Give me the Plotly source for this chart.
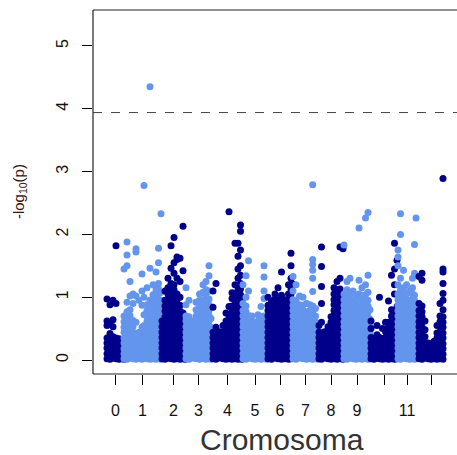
import plotly.graph_objects as go

# ---------------- data ----------------
# cumulative genome position of SNP columns and their -log10(p) values per chromosome
ch00_x = [14, 17, 20, 23, 26, 28.5, 31]
ch00_y = [[0.02, 0.1, 0.19, 0.27, 0.35, 0.55, 0.62, 0.97],
          [0.01, 0.09, 0.17, 0.26, 0.34, 0.42, 0.58, 0.88],
          [0.03, 0.11, 0.2, 0.28, 0.37, 0.53, 0.64, 0.95],
          [0.02, 0.1, 0.18, 0.27, 0.35, 0.9, 1.82],
          [0.01, 0.09, 0.18, 0.26, 0.34],
          [0.02, 0.1, 0.19, 0.28],
          [0.01, 0.08, 0.16]]

ch01_x = [31, 34, 37, 40, 43, 46, 49, 51, 54, 57, 60, 63, 65.5, 68]
ch01_y = [[0.02, 0.1, 0.18, 0.27, 0.35, 0.44, 0.52, 0.61, 0.7, 1.45],
          [0.01, 0.09, 0.17, 0.26, 0.34, 0.43, 0.51, 0.6, 0.68, 0.77, 0.92, 1.5, 1.67, 1.88],
          [0.03, 0.11, 0.2, 0.28, 0.37, 0.45, 0.54, 0.62, 0.71, 0.8, 1.02, 1.25],
          [0.02, 0.1, 0.19, 0.27, 0.36, 0.44, 0.53, 0.63, 0.9, 1.05],
          [0.01, 0.09, 0.18, 0.26, 0.35, 0.6, 1.02, 1.72, 1.77],
          [0.02, 0.1, 0.19, 0.27, 0.36, 0.44, 0.95],
          [0.01, 0.09, 0.17, 0.26, 0.34, 0.43, 0.52, 0.87, 1.1, 1.37],
          [0.03, 0.12, 0.2, 0.29, 0.37, 0.46, 0.55, 0.72, 1.0, 2.78],
          [0.02, 0.1, 0.19, 0.27, 0.36, 0.44, 0.53, 0.62, 0.7, 0.79, 0.88, 1.15],
          [0.01, 0.09, 0.18, 0.26, 0.35, 0.43, 0.52, 0.6, 0.69, 0.78, 0.86, 0.95, 1.46, 4.35],
          [0.02, 0.1, 0.19, 0.27, 0.36, 0.44, 0.53, 0.61, 0.7, 0.79, 0.87, 0.96, 1.04, 1.2],
          [0.01, 0.09, 0.18, 0.26, 0.35, 0.43, 0.52, 0.6, 0.69, 0.77, 0.86, 0.95, 1.03, 1.12, 1.4],
          [0.02, 0.11, 0.19, 0.28, 0.36, 0.45, 0.53, 0.62, 0.71, 0.79, 0.88, 0.96, 1.05, 1.13, 1.22, 1.55, 1.78],
          [0.01, 0.09, 0.18, 0.26, 0.35, 0.44, 0.52, 0.61, 0.7, 0.78, 0.87, 0.95, 1.08, 2.33]]

ch02_x = [69, 72, 75, 78, 81, 84, 87, 90, 92]
ch02_y = [[0.02, 0.1, 0.19, 0.27, 0.36, 0.44, 0.53, 0.62],
          [0.01, 0.09, 0.18, 0.26, 0.35, 0.43, 0.52, 0.6, 0.69, 0.78, 0.86, 0.95, 1.1],
          [0.03, 0.11, 0.2, 0.28, 0.37, 0.45, 0.54, 0.63, 0.71, 0.8, 0.88, 0.97, 1.05, 1.15, 1.3],
          [0.02, 0.1, 0.19, 0.27, 0.36, 0.44, 0.53, 0.61, 0.7, 0.79, 0.87, 0.96, 1.04, 1.13, 1.22, 1.46, 1.82],
          [0.01, 0.09, 0.18, 0.26, 0.35, 0.43, 0.52, 0.6, 0.69, 0.77, 0.86, 0.94, 1.03, 1.12, 1.2, 1.38, 1.55, 1.95],
          [0.02, 0.11, 0.19, 0.28, 0.36, 0.45, 0.53, 0.62, 0.7, 0.79, 0.88, 0.96, 1.05, 1.3, 1.6, 1.64],
          [0.01, 0.1, 0.18, 0.27, 0.35, 0.44, 0.52, 0.61, 0.7, 0.78, 0.87, 1.0, 1.25, 1.62],
          [0.02, 0.1, 0.19, 0.27, 0.36, 0.44, 0.53, 0.61, 0.75, 1.42, 2.13],
          [0.01, 0.09, 0.18, 0.26, 0.35, 0.5]]

ch03_x = [93, 96, 99.5, 103, 106.5, 110, 113, 116, 118]
ch03_y = [[0.02, 0.1, 0.19, 0.27, 0.36, 0.44, 0.53, 0.62, 0.7, 0.88, 1.15],
          [0.01, 0.09, 0.18, 0.26, 0.35, 0.43, 0.52, 0.6, 0.69, 0.95],
          [0.03, 0.11, 0.2, 0.28, 0.37, 0.45, 0.54, 0.62],
          [0.02, 0.1, 0.19, 0.27, 0.36, 0.44, 0.53, 0.61, 0.7, 0.8, 0.92],
          [0.01, 0.09, 0.18, 0.26, 0.35, 0.43, 0.52, 0.6, 0.69, 0.77, 0.86, 0.95, 1.05],
          [0.02, 0.1, 0.19, 0.27, 0.36, 0.44, 0.53, 0.61, 0.7, 0.79, 0.87, 0.96, 1.08, 1.2],
          [0.01, 0.09, 0.18, 0.26, 0.35, 0.43, 0.52, 0.6, 0.69, 0.77, 0.86, 0.95, 1.03, 1.12, 1.25],
          [0.02, 0.11, 0.19, 0.28, 0.36, 0.45, 0.53, 0.62, 0.71, 0.79, 0.88, 0.97, 1.1, 1.34, 1.5],
          [0.01, 0.09, 0.18, 0.26, 0.35, 0.43, 0.52, 0.66, 0.84]]

ch04_x = [120, 123, 126.5, 130, 133, 136, 139, 142, 145, 147.5, 149]
ch04_y = [[0.02, 0.1, 0.19, 0.27, 0.36, 0.44, 0.84, 1.1],
          [0.01, 0.09, 0.18, 0.26, 0.35, 0.43, 0.52, 1.22],
          [0.03, 0.11, 0.2, 0.28, 0.37, 0.45],
          [0.02, 0.1, 0.19, 0.27, 0.36, 0.44, 0.55],
          [0.01, 0.09, 0.18, 0.26, 0.35, 0.43, 0.52, 0.62, 0.75],
          [0.02, 0.1, 0.19, 0.27, 0.36, 0.44, 0.53, 0.61, 0.7, 0.85, 2.36],
          [0.01, 0.09, 0.18, 0.26, 0.35, 0.43, 0.52, 0.6, 0.69, 0.77, 0.86, 0.98, 1.07],
          [0.02, 0.11, 0.19, 0.28, 0.36, 0.45, 0.53, 0.62, 0.71, 0.79, 0.88, 0.96, 1.05, 1.2, 1.86],
          [0.01, 0.09, 0.18, 0.26, 0.35, 0.43, 0.52, 0.6, 0.69, 0.77, 0.86, 0.95, 1.03, 1.12, 1.3, 1.45, 1.65, 1.86],
          [0.02, 0.1, 0.19, 0.27, 0.36, 0.44, 0.53, 0.61, 0.7, 0.79, 0.87, 0.96, 1.04, 1.13, 1.22, 1.35, 1.5, 1.75, 2.05, 2.15],
          [0.01, 0.09, 0.18, 0.26, 0.35, 0.43, 0.52, 0.6, 0.69, 0.8, 0.95]]

ch05_x = [150, 153, 155.5, 159, 162, 165, 168, 171, 174]
ch05_y = [[0.02, 0.1, 0.19, 0.27, 0.36, 0.44, 0.53, 0.61, 0.7, 0.79, 0.9, 1.2],
          [0.01, 0.09, 0.18, 0.26, 0.35, 0.43, 0.52, 0.6, 0.69, 0.77, 0.86, 1.0, 1.34],
          [0.03, 0.11, 0.2, 0.28, 0.37, 0.45, 0.54, 0.62, 0.71, 1.1, 1.58],
          [0.02, 0.1, 0.19, 0.27, 0.36, 0.44, 0.53, 0.61, 0.7],
          [0.01, 0.09, 0.18, 0.26, 0.35, 0.43, 0.52, 0.6],
          [0.02, 0.11, 0.19, 0.28, 0.36, 0.45, 0.53, 0.62, 0.72],
          [0.01, 0.09, 0.18, 0.26, 0.35, 0.43, 0.52, 0.6, 0.69, 0.85],
          [0.02, 0.1, 0.19, 0.27, 0.36, 0.44, 0.53, 0.61, 0.7, 0.98, 1.1, 1.32, 1.5],
          [0.01, 0.09, 0.18, 0.26, 0.35, 0.43, 0.58]]

ch06_x = [175, 178.5, 182, 185, 188.5, 192, 195.5, 198, 199]
ch06_y = [[0.02, 0.1, 0.19, 0.27, 0.36, 0.44, 0.53, 0.61, 0.7, 0.79, 0.87, 1.0],
          [0.01, 0.09, 0.18, 0.26, 0.35, 0.43, 0.52, 0.6, 0.69, 0.77, 0.86, 0.94],
          [0.03, 0.11, 0.2, 0.28, 0.37, 0.45, 0.54, 0.62, 0.71, 0.8, 0.88, 0.97, 1.05],
          [0.02, 0.1, 0.19, 0.27, 0.36, 0.44, 0.53, 0.61, 0.7, 0.79, 0.87, 0.96, 1.15],
          [0.01, 0.09, 0.18, 0.26, 0.35, 0.43, 0.52, 0.6, 0.69, 0.77, 0.86, 0.95, 1.03, 1.4],
          [0.02, 0.11, 0.19, 0.28, 0.36, 0.45, 0.53, 0.62, 0.71, 0.79, 0.88, 0.96],
          [0.01, 0.09, 0.18, 0.26, 0.35, 0.43, 0.52, 0.6, 0.69, 0.77, 0.86, 0.95, 1.05, 1.2],
          [0.02, 0.1, 0.19, 0.27, 0.36, 0.44, 0.53, 0.61, 0.7, 0.79, 0.87, 0.96, 1.05, 1.13, 1.3, 1.5, 1.7],
          [0.04, 0.15, 0.25, 0.4, 0.6, 0.9, 1.22]]

ch07_x = [200, 203, 206.5, 210, 213.5, 217, 219.7, 222.5, 225]
ch07_y = [[0.02, 0.1, 0.19, 0.27, 0.36, 0.44, 0.53, 0.61, 0.7, 0.79, 0.87, 0.96, 1.1, 1.33],
          [0.01, 0.09, 0.18, 0.26, 0.35, 0.43, 0.52, 0.6, 0.69, 0.77, 0.86, 0.95, 1.2],
          [0.03, 0.11, 0.2, 0.28, 0.37, 0.45, 0.54, 0.62, 0.71, 0.8, 0.88, 1.02],
          [0.02, 0.1, 0.19, 0.27, 0.36, 0.44, 0.53, 0.61, 0.7, 0.79, 0.87, 1.0],
          [0.01, 0.09, 0.18, 0.26, 0.35, 0.43, 0.52, 0.6, 0.69, 0.77, 0.9],
          [0.02, 0.11, 0.19, 0.28, 0.36, 0.45, 0.53, 0.62, 0.71, 0.79, 0.88],
          [0.01, 0.09, 0.18, 0.26, 0.35, 0.43, 0.52, 0.6, 0.69, 0.77, 0.86, 1.09, 1.3, 1.43, 1.52, 1.6, 2.79],
          [0.02, 0.1, 0.19, 0.27, 0.36, 0.44, 0.53, 0.61, 0.7, 0.82],
          [0.01, 0.09, 0.18, 0.26, 0.35, 0.43, 0.55]]

ch08_x = [226, 228.5, 231.5, 235, 238, 241, 244, 247, 250]
ch08_y = [[0.02, 0.1, 0.19, 0.27, 0.36, 0.44, 0.55],
          [0.01, 0.09, 0.18, 0.26, 0.35, 0.43, 0.6, 0.9, 1.17, 1.49, 1.8],
          [0.03, 0.11, 0.2, 0.28, 0.37, 0.45],
          [0.02, 0.1, 0.19, 0.27, 0.36, 0.44, 0.53],
          [0.01, 0.09, 0.18, 0.26, 0.35, 0.43, 0.52, 0.6, 0.69],
          [0.02, 0.11, 0.19, 0.28, 0.36, 0.45, 0.53, 0.62, 0.71, 0.79, 0.88, 0.96, 1.05, 1.15],
          [0.01, 0.09, 0.18, 0.26, 0.35, 0.43, 0.52, 0.6, 0.69, 0.77, 0.86, 0.95, 1.03, 1.12, 1.25],
          [0.02, 0.1, 0.19, 0.27, 0.36, 0.44, 0.53, 0.61, 0.7, 0.79, 0.87, 0.96, 1.04, 1.13, 1.3, 1.8],
          [0.01, 0.09, 0.18, 0.26, 0.35, 0.43, 0.52, 0.6, 0.69, 0.77, 0.9, 1.77]]

ch09_x = [251, 254, 257, 260, 263, 266, 269, 272.5, 275, 277]
ch09_y = [[0.02, 0.1, 0.19, 0.27, 0.36, 0.44, 0.53, 0.61, 0.7, 0.79, 0.87, 0.96, 1.05, 1.83],
          [0.01, 0.09, 0.18, 0.26, 0.35, 0.43, 0.52, 0.6, 0.69, 0.77, 0.86, 0.95, 1.03, 1.12, 1.25],
          [0.03, 0.11, 0.2, 0.28, 0.37, 0.45, 0.54, 0.62, 0.71, 0.8, 0.88, 0.97, 1.06, 1.3],
          [0.02, 0.1, 0.19, 0.27, 0.36, 0.44, 0.53, 0.61, 0.7, 0.79, 0.87, 0.96, 1.1],
          [0.01, 0.09, 0.18, 0.26, 0.35, 0.43, 0.52, 0.6, 0.69, 0.77, 0.86, 0.95, 1.03],
          [0.02, 0.11, 0.19, 0.28, 0.36, 0.45, 0.53, 0.62, 0.71, 0.79, 0.88, 0.96, 1.05, 1.27, 2.1],
          [0.01, 0.09, 0.18, 0.26, 0.35, 0.43, 0.52, 0.6, 0.69, 0.77, 0.86, 0.95, 1.03, 1.15],
          [0.02, 0.1, 0.19, 0.27, 0.36, 0.44, 0.53, 0.61, 0.7, 0.79, 0.87, 0.96, 1.04, 1.2, 2.26],
          [0.01, 0.09, 0.18, 0.26, 0.35, 0.43, 0.52, 0.6, 0.69, 0.77, 0.86, 0.95, 1.08, 1.35, 2.35],
          [0.02, 0.1, 0.19, 0.27, 0.36, 0.44, 0.53, 0.65, 0.8]]

ch10_x = [278, 281, 284, 286.5, 289.5, 292.5, 295.5, 298.5, 301.5, 304]
ch10_y = [[0.02, 0.1, 0.19, 0.27, 0.36, 0.5, 0.62],
          [0.01, 0.09, 0.18, 0.26, 0.35],
          [0.03, 0.11, 0.2, 0.28, 0.4, 0.55],
          [0.02, 0.1, 0.19, 0.27, 0.36, 1.0],
          [0.01, 0.09, 0.18, 0.26, 0.34, 0.5],
          [0.02, 0.11, 0.19, 0.28, 0.36, 0.45, 0.6],
          [0.01, 0.09, 0.18, 0.26, 0.35, 0.43, 0.52, 0.6, 0.94],
          [0.02, 0.1, 0.19, 0.27, 0.36, 0.44, 0.53, 0.61, 0.7, 0.8, 1.35],
          [0.01, 0.09, 0.18, 0.26, 0.35, 0.43, 0.52, 0.6, 0.69, 0.77, 1.05, 1.2, 1.45, 1.86],
          [0.02, 0.1, 0.19, 0.27, 0.36, 0.44, 0.53, 0.61, 0.7, 0.85, 1.59]]

ch11_x = [305, 307.5, 310.5, 313.5, 316.5, 319.5, 321.5, 323]
ch11_y = [[0.02, 0.1, 0.19, 0.27, 0.36, 0.44, 0.53, 0.61, 0.7, 0.79, 0.87, 0.96, 1.05, 1.2, 1.5, 1.64, 1.75],
          [0.01, 0.09, 0.18, 0.26, 0.35, 0.43, 0.52, 0.6, 0.69, 0.77, 0.86, 0.95, 1.03, 1.12, 1.3, 2.0, 2.33],
          [0.03, 0.11, 0.2, 0.28, 0.37, 0.45, 0.54, 0.62, 0.71, 0.8, 0.88, 0.97, 1.06, 1.15, 1.43],
          [0.02, 0.1, 0.19, 0.27, 0.36, 0.44, 0.53, 0.61, 0.7, 0.79, 0.87, 0.96, 1.05, 1.2],
          [0.01, 0.09, 0.18, 0.26, 0.35, 0.43, 0.52, 0.6, 0.69, 0.77, 0.86, 0.95, 1.1],
          [0.02, 0.11, 0.19, 0.28, 0.36, 0.45, 0.53, 0.62, 0.71, 0.79, 0.88, 0.96, 1.05, 1.15, 1.3],
          [0.01, 0.09, 0.18, 0.26, 0.35, 0.43, 0.52, 0.6, 0.69, 0.77, 0.86, 0.95, 1.03, 1.38, 1.84],
          [0.02, 0.1, 0.19, 0.27, 0.36, 0.44, 0.53, 0.61, 0.75, 0.9, 2.26]]

ch12_x = [326, 329, 332, 335, 338, 341, 344, 347, 350]
ch12_y = [[0.02, 0.1, 0.19, 0.27, 0.36, 0.44, 0.53, 0.61, 0.7, 0.79, 0.9, 1.33],
          [0.01, 0.09, 0.18, 0.26, 0.35, 0.43, 0.52, 0.6, 0.69, 0.77, 0.86, 1.27, 1.38],
          [0.03, 0.11, 0.2, 0.28, 0.37, 0.48, 0.62],
          [0.02, 0.1, 0.19, 0.27],
          [0.01, 0.09, 0.18, 0.26],
          [0.02, 0.11, 0.19, 0.3],
          [0.01, 0.09, 0.18, 0.26, 0.35, 0.43, 0.55],
          [0.02, 0.1, 0.19, 0.27, 0.36, 0.44, 0.53, 0.61, 0.7, 0.9],
          [0.01, 0.09, 0.18, 0.26, 0.35, 0.43, 0.52, 0.6, 0.69, 0.8, 0.95, 1.06, 1.22, 1.4, 1.45, 2.89]]

chrom_labels = ["0", "1", "2", "3", "4", "5", "6", "7", "8", "9", "", "11", ""]
threshold = 3.94
y_ticks = [0, 1, 2, 3, 4, 5]

# ---------------- figure ----------------
chrom_x = [ch00_x, ch01_x, ch02_x, ch03_x, ch04_x, ch05_x, ch06_x,
           ch07_x, ch08_x, ch09_x, ch10_x, ch11_x, ch12_x]
chrom_y = [ch00_y, ch01_y, ch02_y, ch03_y, ch04_y, ch05_y, ch06_y,
           ch07_y, ch08_y, ch09_y, ch10_y, ch11_y, ch12_y]
colors = ["#00008B", "#6495ED"]
FONT = "Liberation Sans, Arial, Helvetica, sans-serif"

fig = go.Figure()
tick_pos = []
for i, (cx, cy) in enumerate(zip(chrom_x, chrom_y)):
    xs, ys = [], []
    for c, vals in zip(cx, cy):
        xs += [c] * len(vals)
        ys += vals
    tick_pos.append((min(xs) + max(xs)) / 2)
    fig.add_trace(go.Scatter(x=xs, y=ys, mode="markers",
                             marker=dict(size=7, color=colors[i % 2], line=dict(width=0)),
                             hoverinfo="skip", showlegend=False))

fig.update_layout(
    width=457, height=455,
    margin=dict(l=93, r=0, t=10, b=81),
    paper_bgcolor="white", plot_bgcolor="white",
    font=dict(family=FONT, size=16, color="black"),
    showlegend=False,
)
fig.update_xaxes(range=[0, 364], tickvals=tick_pos, ticktext=chrom_labels,
                 ticks="outside", ticklen=10, tickwidth=1, tickcolor="black",
                 showgrid=False, zeroline=False, showline=False,
                 ticklabelstandoff=12, tickfont=dict(size=16, color="#111"))
fig.update_yaxes(range=[-0.223, 5.573], tickvals=y_ticks,
                 ticks="outside", ticklen=10, tickwidth=1, tickcolor="black",
                 tickangle=-90, showgrid=False, zeroline=False, showline=False,
                 ticklabelstandoff=8, tickfont=dict(size=16, color="#111"))

box = dict(type="line", xref="paper", yref="paper", line=dict(color="#222", width=1.2))
fig.add_shape(**box, x0=0, x1=0, y0=0, y1=1)
fig.add_shape(**box, x0=0, x1=1, y0=1, y1=1)
fig.add_shape(**box, x0=0, x1=1, y0=0, y1=0)
fig.add_shape(type="line", xref="paper", yref="y", x0=0, x1=1, y0=threshold, y1=threshold,
              line=dict(color="#444", width=1, dash="dash"))

fig.add_annotation(text="Cromosoma", xref="paper", yref="paper", x=0.519, y=-0.179,
                   xanchor="center", yanchor="middle", showarrow=False,
                   font=dict(size=30, color="#333", family=FONT))
fig.add_annotation(text="-log<sub>10</sub>(p)", xref="paper", yref="paper", x=-0.203, y=0.5,
                   xanchor="center", yanchor="middle", textangle=-90, showarrow=False,
                   font=dict(size=15, color="#3a1010", family=FONT))

fig.write_html("out.html", config={"displayModeBar": False},
               post_script="document.body.style.margin='0';document.body.style.overflow='hidden';")
